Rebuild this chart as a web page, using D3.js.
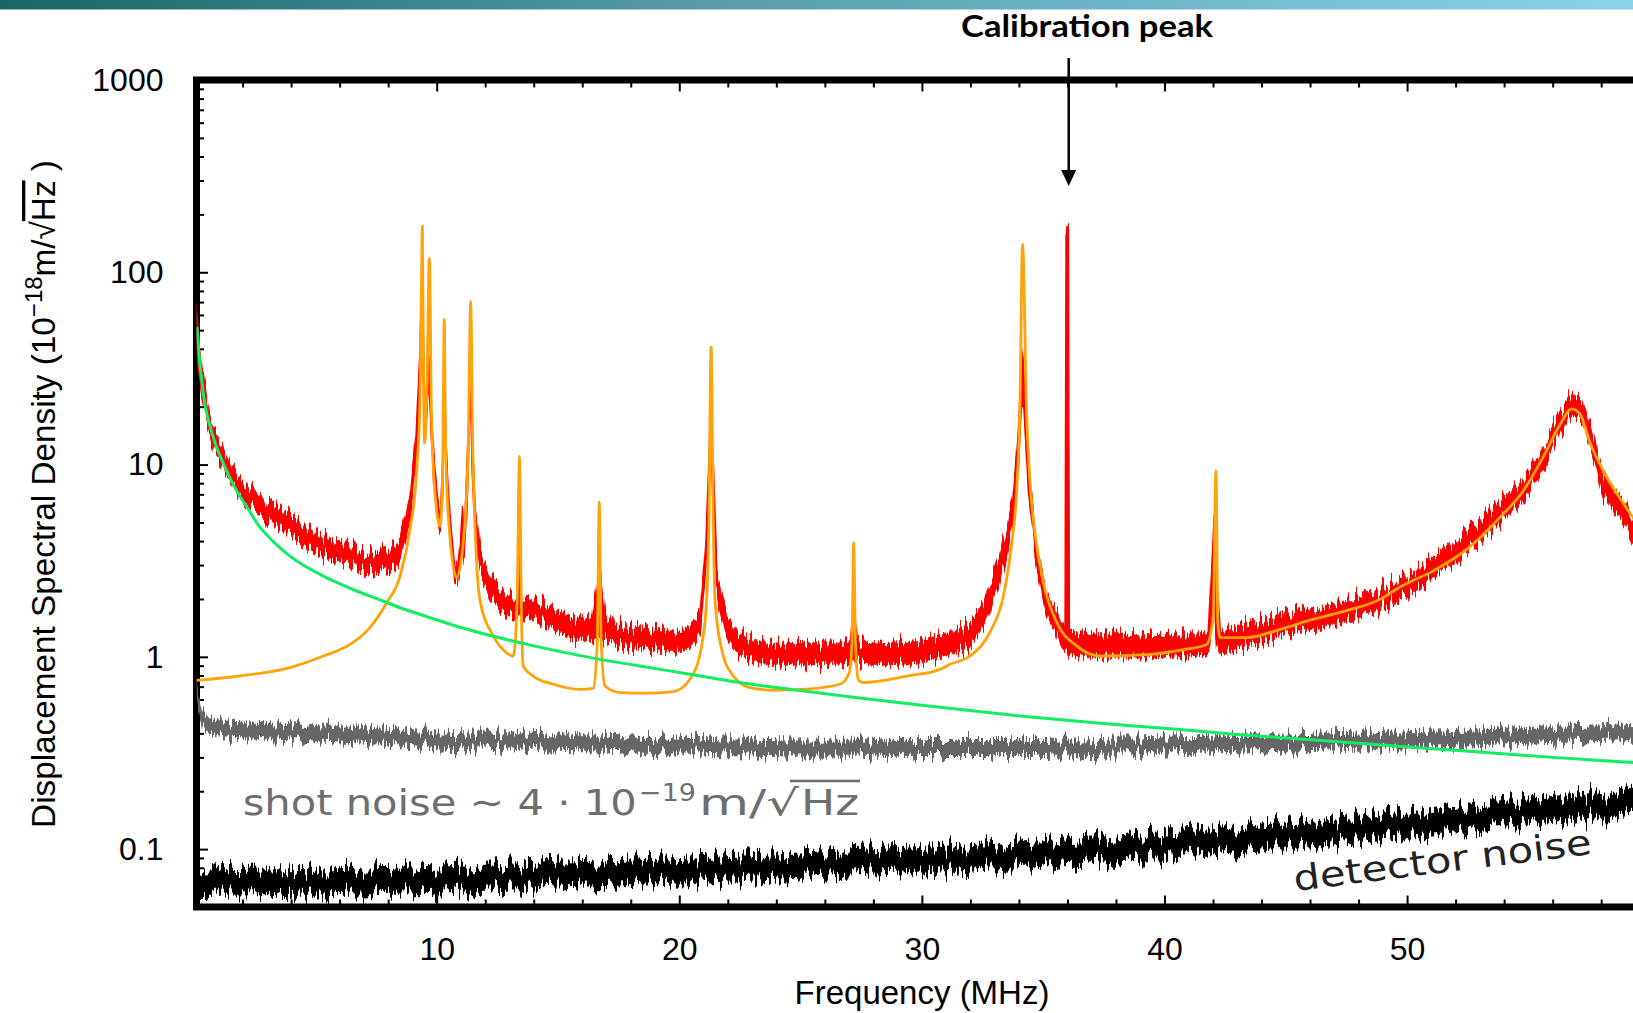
<!DOCTYPE html>
<html><head><meta charset="utf-8">
<script src="https://cdn.jsdelivr.net/npm/d3@7/dist/d3.min.js"></script>
<style>body{margin:0;background:#fff}svg{display:block}</style>
</head><body>
<svg id="c" width="1633" height="1013"></svg>
<script>
// ---------------- data ----------------
const xMajorTicks = [10, 20, 30, 40, 50];
const xTickLabels = ["10", "20", "30", "40", "50"];
const yMajorTicks = [0.1, 1, 10, 100, 1000];
const yTickLabels = ["0.1", "1", "10", "100", "1000"];

// measured displacement spectrum: [MHz, lower edge, upper edge] of the noisy trace
const measured = [
 [0.1,40,65],[0.2,30,45],[0.3,24,34],[0.5,17,22],[0.8,12,15],[1.2,9.5,11.8],[1.6,7.7,9.5],
 [2.2,6.3,7.8],[2.9,5.3,6.7],[3.6,4.6,5.8],[4.2,4.1,5.2],[4.9,3.65,4.6],[5.6,3.25,4.1],
 [6.3,3.05,3.85],[7.0,2.85,3.55],[7.7,2.7,3.45],[8.1,2.75,3.5],[8.5,3.3,4.3],[8.9,5.2,6.8],
 [9.15,10,14],[9.3,24,35],[9.38,45,99],[9.44,30,60],[9.5,12,16],[9.58,17,24],[9.68,25,36],
 [9.76,15,22],[9.88,8,11],[10.0,5.8,7.5],[10.14,4.5,5.5],[10.25,7,10],[10.31,30,50],[10.38,9,13],
 [10.55,4.3,5.5],[10.75,2.45,3.0],[10.85,2.4,2.9],[10.98,3.0,4.0],[11.07,4.0,6.3],[11.14,3.2,4.2],
 [11.28,7,12],[11.38,22,36.5],[11.46,9,14],[11.6,4,5.5],[11.8,2.7,3.5],[12.3,1.95,2.5],
 [12.9,1.65,2.1],[13.3,1.6,2.0],[13.41,1.7,7.7],[13.5,1.6,2.05],[14.0,1.6,2.0],[14.8,1.4,1.78],
 [15.5,1.25,1.6],[16.4,1.2,1.55],[16.7,1.25,2.93],[16.95,1.22,1.58],[17.6,1.14,1.46],
 [18.6,1.1,1.4],[19.8,1.07,1.36],[20.4,1.1,1.42],[20.85,1.32,1.7],[21.1,3.0,4.2],[21.2,6.5,9],
 [21.31,12,20.1],[21.42,6,9],[21.54,2.1,2.8],[21.95,1.25,1.6],[22.5,1.02,1.32],[23.5,0.92,1.18],
 [25,0.91,1.17],[26.6,0.92,1.18],[27.05,0.93,1.2],[27.19,0.95,2.0],[27.35,0.93,1.2],
 [28.5,0.91,1.17],[30,0.93,1.2],[30.7,1.0,1.3],[31.3,1.05,1.36],[31.9,1.1,1.45],[32.3,1.3,1.7],
 [32.7,1.6,2.1],[33.1,2.3,3.1],[33.45,3.3,4.5],[33.75,5,6.8],
 [33.98,10,15],[34.1,20,39.6],[34.2,18,30],[34.4,7,9.2],[34.7,3.2,4.1],[35.1,1.75,2.25],
 [35.5,1.35,1.72],[35.9,1.05,1.38],[35.94,1.05,170],[36.04,1.05,170],[36.08,1.02,1.34],
 [37,1.0,1.32],[39,1.0,1.3],[41.8,1.02,1.32],[41.95,1.5,3],[42.05,1.8,5.4],[42.15,1.2,2.5],
 [42.3,1.02,1.32],[43.0,1.1,1.42],[43.4,1.13,1.46],[44.8,1.3,1.66],[46.1,1.4,1.78],
 [47.5,1.54,1.96],[48.9,1.78,2.25],[50.4,2.28,2.9],[51.8,2.95,3.75],[53.2,4.15,5.3],
 [54.6,6.2,7.9],[55.4,8.6,10.9],[56.2,13.8,17.5],[56.8,18.5,23.7],[57.23,17,21.5],
 [57.67,11.4,14.5],[58.1,6.9,8.8],[58.94,5.0,6.4],[59.3,4.0,5.05],[60,3.4,4.3]
];

// fitted mechanical-mode curve (orange): [MHz, value]
const fitCurve = [
 [0.1,0.755],[1.89,0.795],[3.95,0.879],[5.33,1.01],[6.43,1.16],[7.25,1.42],[7.94,1.91],
 [8.49,2.63],[8.9,4.6],[9.18,9.4],[9.31,20.9],[9.38,103],[9.41,173],[9.45,40],[9.5,13],
 [9.6,25],[9.7,118.6],[9.78,20],[9.9,8],[10.14,4.78],[10.25,10],[10.31,57.1],[10.37,12],
 [10.5,5],[10.82,2.58],[11.1,4],[11.3,12],[11.4,70.5],[11.5,10],[11.78,1.99],[12.34,1.28],
 [12.88,1.05],[13.16,1.01],[13.32,2.0],[13.41,11.04],[13.5,1.5],[13.57,0.896],[13.98,0.794],
 [14.81,0.72],[15.91,0.678],[16.46,0.685],[16.62,1.2],[16.7,6.4],[16.78,1.2],[16.94,0.705],
 [17.56,0.652],[18.65,0.647],[19.76,0.66],[20.44,0.764],[20.92,1.14],[21.13,1.99],[21.22,5],
 [21.31,40.8],[21.4,5],[21.47,1.99],[21.75,1.09],[22.23,0.794],[22.91,0.692],[23.88,0.671],
 [25.25,0.68],[26.62,0.72],[27.01,0.83],[27.12,1.2],[27.19,3.92],[27.26,1.2],[27.38,0.76],
 [27.59,0.735],[29.38,0.794],[30.75,0.861],[31.16,0.914],[31.98,1.01],[32.8,1.34],[33.36,2.07],
 [33.7,3.85],[33.91,7.4],[34.04,19.3],[34.15,140],[34.32,17.8],[34.46,8.03],[34.66,4.42],
 [35.01,2.43],[35.56,1.51],[36.38,1.14],[37.34,1.01],[39.4,1.03],[40.78,1.09],[41.74,1.16],
 [42.01,1.63],[42.12,9.3],[42.2,1.5],[42.29,1.26],[43.39,1.26],[44.76,1.39],[46.14,1.57],
 [47.51,1.74],[48.88,1.99],[49.71,2.31],[51.08,2.8],[52.46,3.62],[53.83,5.31],[54.79,7.31],
 [55.62,11.0],[56.3,16.1],[56.79,19.5],[57.13,18.3],[57.54,13.0],[58.09,9.26],[58.91,6.3],
 [59.31,5.31],[60,4.4]
];

// model curve (green): [MHz, value]
const modelCurve = [
 [0.12,52],[0.2,38],[0.31,27.7],[0.45,20.5],[0.66,15.8],[0.9,12.6],[1.2,10.2],[1.5,8.4],
 [1.89,6.84],[2.3,5.7],[2.58,4.98],[3.2,4.05],[3.95,3.34],[4.6,2.95],[5.33,2.63],[6.0,2.4],
 [6.7,2.2],[7.66,1.98],[8.5,1.8],[9.72,1.6],[11,1.42],[12.33,1.28],[14,1.14],[16.73,0.97],
 [18.37,0.896],[20.5,0.81],[22.5,0.735],[24.56,0.678],[27,0.62],[30,0.56],[34.04,0.493],
 [37,0.455],[40,0.425],[43,0.395],[46.6,0.366],[50,0.34],[53,0.32],[56,0.3],[59.3,0.282],[60,0.278]
];

// shot-noise trace (grey): [MHz, lower edge, upper edge]
const shotTrace = [
 [0.1,0.636,0.77],[0.2,0.514,0.62],[0.35,0.436,0.528],[0.6,0.4,0.484],[1,0.382,0.462],
 [3,0.373,0.451],[6,0.359,0.435],[10,0.338,0.409],[15,0.325,0.394],[20,0.314,0.38],
 [25,0.307,0.372],[30,0.305,0.369],[35,0.305,0.369],[40,0.314,0.38],[45,0.325,0.394],
 [50,0.339,0.41],[55,0.353,0.427],[60,0.373,0.451]
];

// detector-noise trace (black): [MHz, lower edge, upper edge]
const detectorTrace = [
 [0.1,0.057,0.0766],[5,0.058,0.078],[10,0.06,0.081],[15,0.064,0.086],[20,0.067,0.09],
 [25,0.071,0.095],[30,0.0755,0.1015],[35,0.082,0.11],[40,0.091,0.123],[45,0.102,0.137],
 [50,0.1155,0.155],[55,0.133,0.179],[60,0.154,0.208]
];

const calibrationFreq = 35.99;

// ---------------- drawing ----------------
const svg = d3.select("#c");
const W = 1633, H = 1013;
const L = 196.5, T = 80, B = 907, R = 1649.7;

const x = d3.scaleLinear().domain([0.1, 60]).range([L, R]);
const y = d3.scaleLog().domain([0.05, 1000]).range([B, T]);

const defs = svg.append("defs");
const grad = defs.append("linearGradient").attr("id", "topbar");
grad.append("stop").attr("offset", "0%").attr("stop-color", "#1a6566");
grad.append("stop").attr("offset", "45%").attr("stop-color", "#5a9eab");
grad.append("stop").attr("offset", "100%").attr("stop-color", "#8dd2ea");
svg.append("rect").attr("x", 0).attr("y", 0).attr("width", W).attr("height", 9.5).attr("fill", "url(#topbar)");

// rough-edge texture for the measured (noisy) traces
function jitterFilter(id, scale, seed) {
  const f = defs.append("filter").attr("id", id)
    .attr("x", "-2%").attr("y", "-20%").attr("width", "104%").attr("height", "140%")
    .attr("color-interpolation-filters", "sRGB");
  f.append("feTurbulence").attr("type", "fractalNoise").attr("baseFrequency", "0.4 0.003")
    .attr("numOctaves", 2).attr("seed", seed).attr("result", "t");
  f.append("feColorMatrix").attr("in", "t").attr("type", "matrix")
    .attr("values", "0 0 0 0 0.5  0 1 0 0 0  0 0 0 0 0  0 0 0 0 1").attr("result", "m");
  f.append("feDisplacementMap").attr("in", "SourceGraphic").attr("in2", "m")
    .attr("scale", scale).attr("xChannelSelector", "R").attr("yChannelSelector", "G");
}
jitterFilter("jr", 32, 3);
jitterFilter("jg", 26, 7);
jitterFilter("jb", 36, 11);

defs.append("clipPath").attr("id", "plotclip").append("rect")
  .attr("x", L).attr("y", T).attr("width", R - L).attr("height", B - T);

// axes (ticks inward)
const yMinor = [];
[0.01, 0.1, 1, 10, 100].forEach(d => { for (let k = 2; k <= 9; k++) { const v = k * d; if (v >= 0.05 && v < 1000) yMinor.push(v); } });
const xMinor = d3.range(2, 61, 2).filter(v => v % 10 !== 0);

function styleAxis(g) {
  g.select(".domain").remove();
  g.selectAll("line").attr("stroke", "#000").attr("stroke-width", 2);
  g.selectAll("text").attr("font-family", "'Liberation Sans', Arial, sans-serif").attr("font-size", 32).attr("fill", "#000");
}
svg.append("g").attr("transform", `translate(0,${B})`)
  .call(d3.axisBottom(x).tickValues(xMajorTicks).tickFormat((d, i) => xTickLabels[i]).tickSize(-11.5).tickPadding(29.8))
  .call(styleAxis);
svg.append("g").attr("transform", `translate(0,${B})`)
  .call(d3.axisBottom(x).tickValues(xMinor).tickFormat("").tickSize(-7.5)).call(styleAxis);
svg.append("g").attr("transform", `translate(0,${T})`)
  .call(d3.axisTop(x).tickValues(xMajorTicks).tickFormat("").tickSize(-11.5)).call(styleAxis);
svg.append("g").attr("transform", `translate(0,${T})`)
  .call(d3.axisTop(x).tickValues(xMinor).tickFormat("").tickSize(-7.5)).call(styleAxis);
svg.append("g").attr("transform", `translate(${L},0)`)
  .call(d3.axisLeft(y).tickValues(yMajorTicks).tickFormat((d, i) => yTickLabels[i]).tickSize(-11.5).tickPadding(33))
  .call(styleAxis);
svg.append("g").attr("transform", `translate(${L},0)`)
  .call(d3.axisLeft(y).tickValues(yMinor).tickFormat("").tickSize(-7.5)).call(styleAxis);

// frame (drawn under the data, as in the original)
svg.append("path")
  .attr("d", `M${R + 10},${T}H${L}V${B}H${R + 10}`)
  .attr("fill", "none").attr("stroke", "#000").attr("stroke-width", 7).attr("stroke-linejoin", "miter");

const plot = svg.append("g").attr("clip-path", "url(#plotclip)");
const band = d3.area().x(d => x(d[0])).y0(d => y(d[1])).y1(d => y(d[2])).curve(d3.curveLinear);
const line = d3.line().x(d => x(d[0])).y(d => y(d[1])).curve(d3.curveMonotoneX);

plot.append("path").datum(shotTrace).attr("d", band).attr("fill", "#666").attr("filter", "url(#jg)");
plot.append("path").datum(detectorTrace).attr("d", band).attr("fill", "#000").attr("filter", "url(#jb)");
plot.append("path").datum(measured).attr("d", band).attr("fill", "#ff0000")
  .attr("stroke", "#ff0000").attr("stroke-width", 1.4).attr("filter", "url(#jr)");
plot.append("path").datum(fitCurve).attr("d", line).attr("fill", "none")
  .attr("stroke", "#ffa308").attr("stroke-width", 2.8);
plot.append("path").datum(modelCurve).attr("d", line).attr("fill", "none")
  .attr("stroke", "#11ee60").attr("stroke-width", 3);

// axis titles
svg.append("text").attr("x", 922).attr("y", 1004).attr("text-anchor", "middle")
  .attr("font-family", "'Liberation Sans', Arial, sans-serif").attr("font-size", 33)
  .text("Frequency (MHz)");

const yl = svg.append("text").attr("transform", "translate(55,494) rotate(-90)")
  .attr("text-anchor", "middle").attr("font-family", "'Liberation Sans', Arial, sans-serif").attr("font-size", 33.3);
yl.append("tspan").text("Displacement Spectral Density (10");
yl.append("tspan").attr("font-size", 24).attr("dy", -13).text("−18");
yl.append("tspan").attr("dy", 13).text("m/√");
yl.append("tspan").style("text-decoration", "overline").text("Hz");
yl.append("tspan").text(" )");

// annotation
svg.append("text").attr("x", 1087).attr("y", 36.7).attr("text-anchor", "middle")
  .attr("font-family", "Lato, 'Open Sans', sans-serif").attr("font-weight", "bold").attr("font-size", 30)
  .attr("textLength", 252).attr("lengthAdjust", "spacingAndGlyphs")
  .text("Calibration peak");
const ax = x(calibrationFreq) + 1.5;
svg.append("line").attr("x1", ax).attr("x2", ax).attr("y1", 58).attr("y2", 172)
  .attr("stroke", "#000").attr("stroke-width", 2.5);
svg.append("path").attr("d", `M${ax - 7.5},170L${ax + 7.5},170L${ax},186Z`).attr("fill", "#000");

// in-plot labels
const grey = "#6e6e6e";
const sn = svg.append("g").attr("font-family", "'DejaVu Sans', sans-serif").attr("fill", grey);
sn.append("text").attr("x", 242.7).attr("y", 815).attr("font-size", 36)
  .attr("textLength", 394).attr("lengthAdjust", "spacingAndGlyphs").text("shot noise ∼ 4 · 10");
sn.append("text").attr("x", 639).attr("y", 801).attr("font-size", 25)
  .attr("textLength", 57).attr("lengthAdjust", "spacingAndGlyphs").text("−19");
sn.append("text").attr("x", 699).attr("y", 815).attr("font-size", 36)
  .attr("textLength", 100).attr("lengthAdjust", "spacingAndGlyphs").text("m/√");
sn.append("text").attr("x", 801).attr("y", 815).attr("font-size", 36)
  .attr("textLength", 58).attr("lengthAdjust", "spacingAndGlyphs").text("Hz");
sn.append("line").attr("x1", 790).attr("x2", 860).attr("y1", 781).attr("y2", 781)
  .attr("stroke", grey).attr("stroke-width", 2.5);

svg.append("text").attr("transform", "translate(1295,891) rotate(-7.1)")
  .attr("font-family", "'DejaVu Sans', sans-serif").attr("font-size", 35).attr("fill", "#222")
  .attr("textLength", 300).attr("lengthAdjust", "spacingAndGlyphs")
  .text("detector noise");
</script>
</body></html>
